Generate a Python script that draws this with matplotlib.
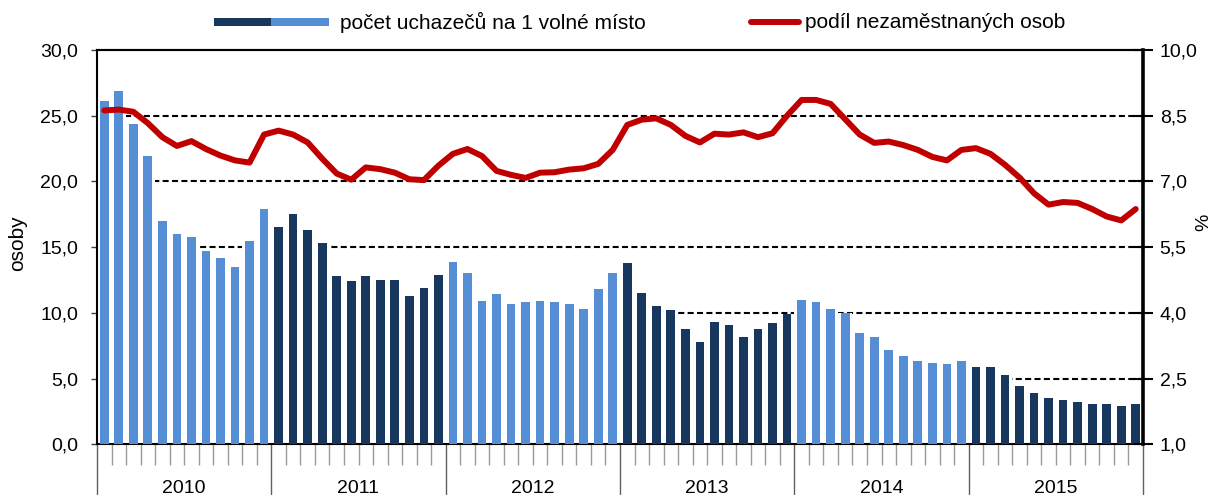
import matplotlib
matplotlib.use("Agg")
import matplotlib.pyplot as plt
import matplotlib.transforms as mtransforms
from matplotlib.patches import Rectangle
from matplotlib.lines import Line2D
from matplotlib.ticker import FixedLocator, FuncFormatter, NullFormatter

plt.rcParams['font.family'] = ['Liberation Sans', 'DejaVu Sans']

years = ['2010', '2011', '2012', '2013', '2014', '2015']
applicants = [
    26.1, 26.9, 24.4, 21.9, 17.0, 16.0, 15.8, 14.7, 14.2, 13.5, 15.5, 17.9,
    16.5, 17.5, 16.3, 15.3, 12.8, 12.4, 12.8, 12.5, 12.5, 11.3, 11.9, 12.9,
    13.9, 13.0, 10.9, 11.4, 10.7, 10.8, 10.9, 10.8, 10.7, 10.3, 11.8, 13.0,
    13.8, 11.5, 10.5, 10.2, 8.8, 7.8, 9.3, 9.1, 8.2, 8.8, 9.2, 9.9,
    11.0, 10.8, 10.3, 10.0, 8.5, 8.2, 7.2, 6.7, 6.3, 6.2, 6.1, 6.3,
    5.9, 5.9, 5.3, 4.4, 3.9, 3.5, 3.4, 3.2, 3.1, 3.1, 2.9, 3.1,
]
unemployment = [
    8.62, 8.64, 8.59, 8.33, 8.01, 7.81, 7.92, 7.74, 7.59, 7.48, 7.43, 8.07,
    8.16, 8.07, 7.89, 7.52, 7.18, 7.04, 7.32, 7.28, 7.20, 7.05, 7.03, 7.36,
    7.63, 7.74, 7.58, 7.24, 7.15, 7.08, 7.20, 7.21, 7.27, 7.30, 7.40, 7.72,
    8.29, 8.41, 8.44, 8.29, 8.04, 7.89, 8.09, 8.07, 8.12, 8.01, 8.10, 8.50,
    8.86, 8.86, 8.77, 8.42, 8.07, 7.88, 7.91, 7.83, 7.72, 7.56, 7.48, 7.72,
    7.76, 7.63, 7.38, 7.09, 6.73, 6.47, 6.53, 6.51, 6.37, 6.20, 6.11, 6.37,
]
left_ticks = [0, 5, 10, 15, 20, 25, 30]
right_ticks = [1.0, 2.5, 4.0, 5.5, 7.0, 8.5, 10.0]
label_bars = 'počet uchazečů na 1 volné místo'
label_line = 'podíl nezaměstnaných osob'

LIGHT = '#558ED5'
DARK = '#17375E'
RED = '#C00000'

W, H = 1216, 495
fig = plt.figure(figsize=(W / 100, H / 100), dpi=100)
ax = fig.add_axes([97 / W, 1 - 444.3 / H, (1143 - 97) / W, (444.3 - 50) / H])

n = len(applicants)
xs = list(range(n))
colors = [LIGHT if (i // 12) % 2 == 0 else DARK for i in xs]

# gridlines (hidden behind bar columns)
for v in left_ticks[1:-1]:
    ax.axhline(v, color='black', lw=1.5, dashes=(2.9, 1.6), zorder=1)
ax.bar(xs, applicants, width=1.0, color='white', zorder=2)
ax.bar(xs, applicants, width=0.6, color=colors, zorder=3)

ax.set_xlim(-0.5, n - 0.5)
ax.set_ylim(0, 30)
ax.yaxis.set_major_locator(FixedLocator(left_ticks))
ax.yaxis.set_major_formatter(FuncFormatter(lambda v, p: f"{v:.1f}".replace('.', ',')))
ax.tick_params(axis='y', direction='out', length=4.5, width=1, color='#404040',
               labelsize=14, pad=9)

# x ticks: year boundaries (major), month boundaries (minor)
year_bounds = [12 * k - 0.5 for k in range(len(years) + 1)]
month_bounds = [m + 0.5 for m in range(n - 1) if (m + 1) % 12 != 0]
ax.xaxis.set_major_locator(FixedLocator(year_bounds))
ax.xaxis.set_minor_locator(FixedLocator(month_bounds))
ax.xaxis.set_major_formatter(NullFormatter())
ax.tick_params(axis='x', which='major', direction='out', length=40, width=1, color='#606060')
ax.tick_params(axis='x', which='minor', direction='out', length=15, width=1, color='#9a9a9a')

trans = mtransforms.blended_transform_factory(ax.transData, ax.transAxes)
for k, yr in enumerate(years):
    ax.text(12 * k + 5.5, -(493 - 444.3) / (444.3 - 50), yr, transform=trans,
            ha='center', va='baseline', fontsize=14, clip_on=False)

for s in ['left', 'bottom', 'top']:
    ax.spines[s].set_linewidth(1.5)
    ax.spines[s].set_color('black')
ax.spines['right'].set_visible(False)

ax2 = ax.twinx()
ax2.plot(xs, unemployment, color=RED, lw=4.3, solid_capstyle='round',
         solid_joinstyle='round', zorder=5)
ax2.set_ylim(1, 10)
ax2.yaxis.set_major_locator(FixedLocator(right_ticks))
ax2.yaxis.set_major_formatter(FuncFormatter(lambda v, p: f"{v:.1f}".replace('.', ',')))
ax2.tick_params(axis='y', direction='inout', length=14, width=1.5, color='black',
                labelsize=14, pad=5)
ax2.spines['right'].set_linewidth(2.6)
ax2.spines['right'].set_color('black')
ax2.spines['top'].set_linewidth(1.5)
ax2.spines['left'].set_visible(False)
ax2.spines['bottom'].set_visible(False)

# axis labels
fig.text(18 / W, 1 - 243 / H, 'osoby', rotation=90, ha='center', va='center', fontsize=15)
fig.text(1204 / W, 1 - 222 / H, '%', rotation=90, ha='center', va='center', fontsize=14)

# legend (manual, above the plot)
ly = 1 - 22 / H
ph = 8 / H
fig.add_artist(Rectangle((214 / W, ly - ph / 2), 57 / W, ph, transform=fig.transFigure,
                         facecolor=DARK, edgecolor='none'))
fig.add_artist(Rectangle((271 / W, ly - ph / 2), 58 / W, ph, transform=fig.transFigure,
                         facecolor=LIGHT, edgecolor='none'))
fig.text(340 / W, ly, label_bars, ha='left', va='center', fontsize=15)
fig.add_artist(Line2D([751 / W, 799 / W], [ly, ly], transform=fig.transFigure,
                      color=RED, lw=4.3, solid_capstyle='round'))
fig.text(805 / W, ly, label_line, ha='left', va='center', fontsize=15)

fig.savefig('out.png', dpi=100)
